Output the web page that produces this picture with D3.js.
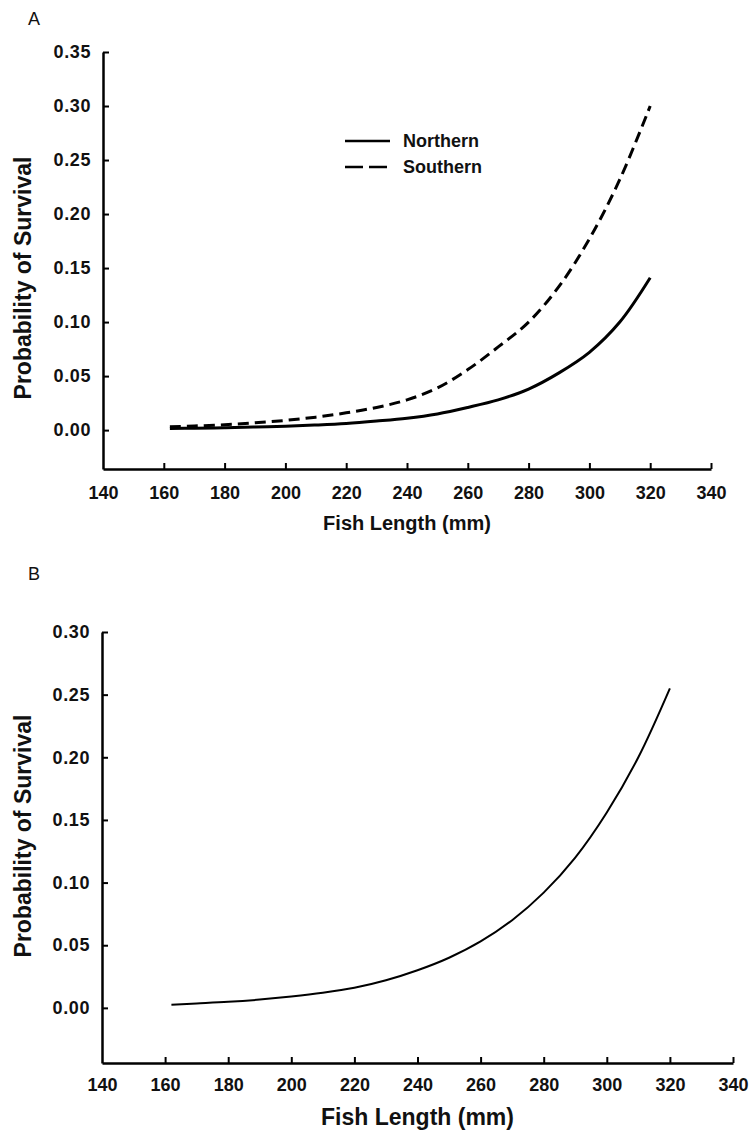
<!DOCTYPE html>
<html>
<head>
<meta charset="utf-8">
<script src="https://cdn.jsdelivr.net/npm/d3@7"></script>
<style>
  body { margin: 0; background: #fff; }
  svg { display: block; font-family: "Liberation Sans", Arial, sans-serif; }
  .tick text { font-weight: bold; }
</style>
</head>
<body>
<svg id="chart" width="750" height="1141"></svg>
<script>
// fish length (mm) where curves are read
const lengths = [162, 170, 180, 190, 200, 210, 220, 230, 240, 250, 260, 270, 280, 290, 300, 310, 320];
// panel A
const northern = [0.0015, 0.0018, 0.0022, 0.0028, 0.0035, 0.0047, 0.0062, 0.0084, 0.011, 0.015, 0.021, 0.028, 0.038, 0.053, 0.072, 0.100, 0.141];
const southern = [0.003, 0.0038, 0.005, 0.0068, 0.009, 0.012, 0.016, 0.021, 0.028, 0.039, 0.056, 0.077, 0.100, 0.133, 0.177, 0.232, 0.300];
// panel B
const combined = [0.0025, 0.0035, 0.0048, 0.0066, 0.009, 0.012, 0.016, 0.022, 0.030, 0.040, 0.053, 0.070, 0.092, 0.120, 0.156, 0.200, 0.255];

const xTicks = [140, 160, 180, 200, 220, 240, 260, 280, 300, 320, 340];
const yTicksA = [0, 0.05, 0.10, 0.15, 0.20, 0.25, 0.30, 0.35];
const yTicksB = [0, 0.05, 0.10, 0.15, 0.20, 0.25, 0.30];
const legendNames = ['Northern', 'Southern'];

const svg = d3.select('#chart');

function drawPanel(p) {
    const x = d3.scaleLinear().domain([140, 340]).range([p.left, p.right]);
    const y = d3.scaleLinear().domain([p.yMin, p.yMax]).range([p.bottom, p.top]);
    const g = svg.append('g');

    // x axis, ticks inward
    const xa = g.append('g')
        .attr('transform', `translate(0,${p.bottom})`)
        .call(d3.axisBottom(x).tickValues(xTicks).tickFormat(d3.format('d'))
            .tickSizeInner(-6).tickSizeOuter(0).tickPadding(p.xPad));
    xa.select('.domain').attr('stroke-width', 2.5);
    xa.selectAll('.tick line').attr('stroke-width', 2);
    xa.selectAll('.tick').filter(d => d === 140).select('line').remove();
    xa.selectAll('text').attr('font-size', p.tickFont).attr('fill', '#111');

    // y axis
    const ya = g.append('g')
        .attr('transform', `translate(${p.left},0)`)
        .call(d3.axisLeft(y).tickValues(p.yTicks).tickFormat(d3.format('.2f'))
            .tickSizeInner(-6).tickSizeOuter(0).tickPadding(12));
    ya.select('.domain').attr('stroke-width', 2.5);
    ya.selectAll('.tick line').attr('stroke-width', 2);
    ya.selectAll('text').attr('font-size', p.tickFont).attr('fill', '#111')
        .attr('letter-spacing', 0.6);

    // titles
    g.append('text')
        .attr('x', (p.left + p.right) / 2).attr('y', p.bottom + p.titleOff)
        .attr('text-anchor', 'middle').attr('font-weight', 'bold')
        .attr('font-size', p.titleFont).attr('fill', '#111')
        .text('Fish Length (mm)');
    g.append('text')
        .attr('transform', `translate(31,${p.yTitleY}) rotate(-90)`)
        .attr('text-anchor', 'middle').attr('font-weight', 'bold')
        .attr('font-size', 23).attr('fill', '#111')
        .text('Probability of Survival');
    g.append('text')
        .attr('x', 28).attr('y', p.labelY)
        .attr('font-size', 18).attr('fill', '#111')
        .text(p.label);

    const line = d3.line().x(d => x(d[0])).y(d => y(d[1])).curve(d3.curveCatmullRom);
    p.series.forEach(s => {
        g.append('path')
            .datum(d3.zip(lengths, s.values))
            .attr('d', line)
            .attr('fill', 'none')
            .attr('stroke', '#000')
            .attr('stroke-width', p.lineWidth)
            .attr('stroke-dasharray', s.dash);
    });
    return { x, y, g };
}

const a = drawPanel({
    left: 103, right: 711, top: 52, bottom: 469, yMin: -0.036, yMax: 0.35,
    yTicks: yTicksA, tickFont: 18, titleFont: 20, titleOff: 61, xPad: 17, yTitleY: 278,
    label: 'A', labelY: 25, lineWidth: 3,
    series: [{ values: northern, dash: null }, { values: southern, dash: '11,6' }]
});

drawPanel({
    left: 102, right: 733, top: 632, bottom: 1063, yMin: -0.044, yMax: 0.30,
    yTicks: yTicksB, tickFont: 18, titleFont: 23, titleOff: 62, xPad: 15, yTitleY: 836,
    label: 'B', labelY: 580, lineWidth: 2,
    series: [{ values: combined, dash: null }]
});

// legend in panel A
const leg = a.g.append('g');
legendNames.forEach((name, i) => {
    const ly = 141 + i * 26;
    leg.append('line')
        .attr('x1', 345).attr('x2', 390).attr('y1', ly).attr('y2', ly)
        .attr('stroke', '#000').attr('stroke-width', 2.6)
        .attr('stroke-dasharray', i === 1 ? '18,6' : null);
    leg.append('text')
        .attr('x', 403).attr('y', ly + 6)
        .attr('font-size', 18).attr('font-weight', 'bold').attr('fill', '#111')
        .text(name);
});
</script>
</body>
</html>
